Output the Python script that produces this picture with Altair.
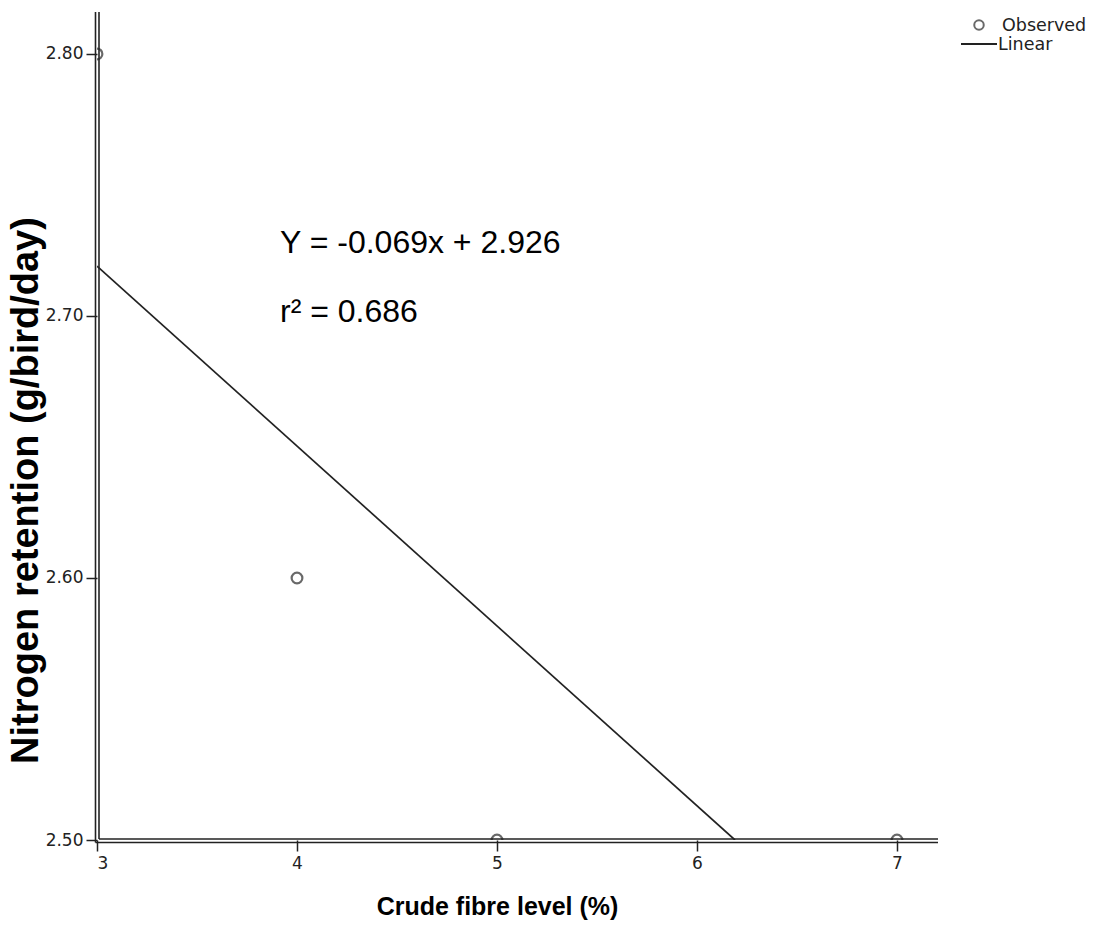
import altair as alt
import pandas as pd

# Observed data
fibre_level = [3, 4, 5, 7]
nitrogen_ret = [2.80, 2.60, 2.50, 2.50]

# Fitted linear line (as drawn, clipped at axis bottom)
fit_x = [3.0, 6.19]
fit_y = [2.719, 2.50]

x_ticks = [3, 4, 5, 6, 7]
y_ticks = [2.50, 2.60, 2.70, 2.80]

eq_text = ["Y = -0.069x + 2.926", "r\u00b2 = 0.686"]
legend_labels = ["Observed", "Linear"]

INK = "#222222"
W, H = 840, 828

obs = pd.DataFrame({"x": fibre_level, "y": nitrogen_ret})
fit = pd.DataFrame({"x": fit_x, "y": fit_y})

xscale = alt.Scale(domain=[3, 7.2], nice=False, zero=False)
yscale = alt.Scale(domain=[2.5, 2.816], nice=False, zero=False)

xaxis = alt.Axis(
    values=x_ticks, format="d", domain=False, grid=False,
    tickSize=11, tickColor=INK, tickWidth=1.5,
    labelFont="DejaVu Sans", labelFontSize=17, labelColor=INK, labelPadding=4,
    title="Crude fibre level (%)", titleFont="Liberation Sans", titleFontSize=25,
    titleFontWeight="bold", titleColor="#000000",
    titleX=400, titleY=74, titleAlign="center", titleBaseline="alphabetic", titleAnchor="start",
)
yaxis = alt.Axis(
    values=y_ticks, format=".2f", domain=False, grid=False,
    tickSize=11, tickColor=INK, tickWidth=1.5,
    labelFont="DejaVu Sans", labelFontSize=17, labelColor=INK, labelPadding=3,
    title="Nitrogen retention (g/bird/day)", titleFont="Liberation Sans", titleFontSize=38,
    titleFontWeight="bold", titleColor="#000000",
    titleX=-71, titleY=478, titleAngle=270, titleAlign="center", titleBaseline="middle",
    titleAnchor="start",
)

points = alt.Chart(obs).mark_point(
    shape="circle", filled=False, size=115, strokeWidth=2.2, color="#2a2a2a", clip=True
).encode(
    x=alt.X("x:Q", scale=xscale, axis=xaxis),
    y=alt.Y("y:Q", scale=yscale, axis=yaxis),
)

line = alt.Chart(fit).mark_line(color=INK, strokeWidth=1.7, clip=True).encode(
    x=alt.X("x:Q", scale=xscale),
    y=alt.Y("y:Q", scale=yscale),
)

one = alt.Data(values=[{"a": 1}])

def vrule(xp, y0, y1):
    return alt.Chart(one).mark_rule(color=INK, strokeWidth=1.6).encode(
        x=alt.value(xp), y=alt.value(y0), y2=alt.value(y1))

def hrule(yp, x0, x1):
    return alt.Chart(one).mark_rule(color=INK, strokeWidth=1.6).encode(
        y=alt.value(yp), x=alt.value(x0), x2=alt.value(x1))

frame = [
    vrule(-1.5, 0, 830.5),
    vrule(2.0, 0, 827),
    hrule(827, 2.0, 841),
    hrule(830.5, -1.5, 841),
]

eq1 = alt.Chart(one).mark_text(
    text=eq_text[0], font="Liberation Sans", fontSize=32, color="#000000",
    align="left", baseline="alphabetic"
).encode(x=alt.value(183), y=alt.value(241))
eq2 = alt.Chart(one).mark_text(
    text=eq_text[1], font="Liberation Sans", fontSize=32, color="#000000",
    align="left", baseline="alphabetic"
).encode(x=alt.value(183), y=alt.value(310))

leg_pt = alt.Chart(one).mark_point(
    shape="circle", filled=False, size=90, strokeWidth=2, color="#2a2a2a"
).encode(x=alt.value(882), y=alt.value(13))
leg_ln = alt.Chart(one).mark_rule(color=INK, strokeWidth=1.8).encode(
    x=alt.value(864), x2=alt.value(900), y=alt.value(32))
leg_t1 = alt.Chart(one).mark_text(
    text=legend_labels[0], font="DejaVu Sans", fontSize=17.5, color=INK,
    align="left", baseline="alphabetic"
).encode(x=alt.value(905), y=alt.value(19))
leg_t2 = alt.Chart(one).mark_text(
    text=legend_labels[1], font="DejaVu Sans", fontSize=17.5, color=INK,
    align="left", baseline="alphabetic"
).encode(x=alt.value(901), y=alt.value(38))

chart = alt.layer(
    line, points, *frame, eq1, eq2, leg_pt, leg_ln, leg_t1, leg_t2
).properties(
    width=W, height=H,
    autosize=alt.AutoSizeParams(type="none"),
    padding={"left": 97, "top": 12, "right": 159, "bottom": 89},
    background="white",
).configure_view(stroke=None)

chart.save("out.html", embed_options={"renderer": "svg", "actions": False})
